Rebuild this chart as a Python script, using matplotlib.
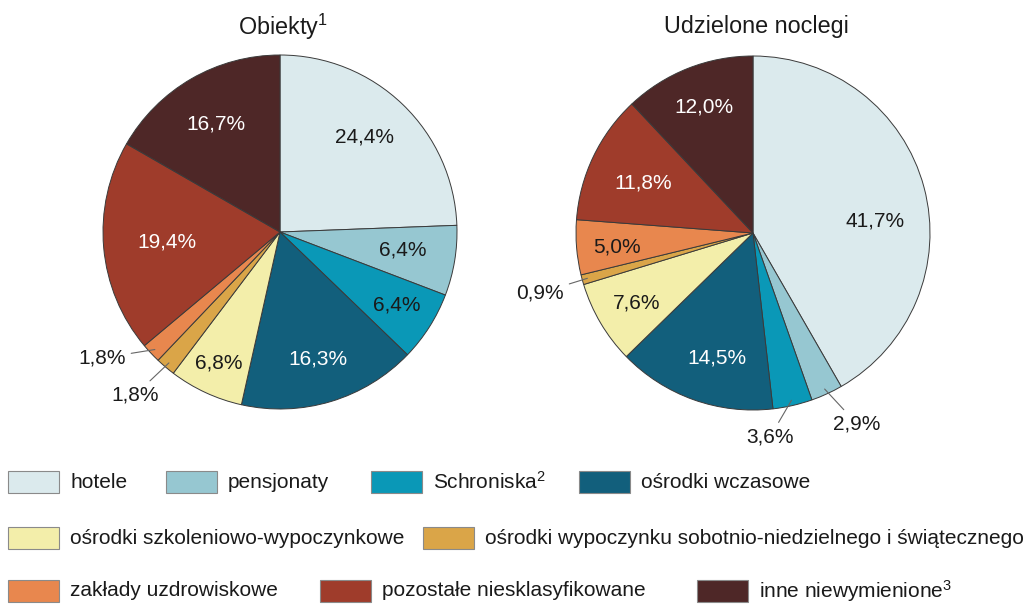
import numpy as np
import matplotlib.pyplot as plt
from matplotlib.patches import Rectangle

plt.rcParams['font.family'] = ['Liberation Sans', 'DejaVu Sans']
plt.rcParams['mathtext.fontset'] = 'custom'
plt.rcParams['mathtext.rm'] = 'Liberation Sans'
plt.rcParams['mathtext.default'] = 'regular'

categories = ['hotele', 'pensjonaty', 'Schroniska$^{2}$', 'ośrodki wczasowe',
              'ośrodki szkoleniowo-wypoczynkowe',
              'ośrodki wypoczynku sobotnio-niedzielnego i świątecznego',
              'zakłady uzdrowiskowe', 'pozostałe niesklasyfikowane',
              'inne niewymienione$^{3}$']
obiekty = [24.4, 6.4, 6.4, 16.3, 6.8, 1.8, 1.8, 19.4, 16.7]
noclegi = [41.7, 2.9, 3.6, 14.5, 7.6, 0.9, 5.0, 11.8, 12.0]
titles = ['Obiekty$^{1}$', 'Udzielone noclegi']

colors = ['#dbeaed', '#96c7d1', '#0a98b7', '#125f7c', '#f3eeaa',
          '#daa548', '#e8874e', '#9f3c2b', '#4e2727']
white_text = [3, 7, 8]

# label positions in pie units (radius = 1)
pos_obiekty = [(0.475, 0.537), (0.695, -0.102), (0.661, -0.412), (0.215, -0.718),
               (-0.345, -0.740), (-0.819, -0.921), (-1.006, -0.712),
               (-0.638, -0.056), (-0.362, 0.610)]
pos_noclegi = [(0.689, 0.068), (0.588, -1.079), (0.096, -1.153), (-0.203, -0.706),
               (-0.655, -0.395), (-1.203, -0.339), (-0.768, -0.079),
               (-0.621, 0.282), (-0.277, 0.712)]

W, H = 1029, 604
fig = plt.figure(figsize=(W / 100, H / 100), dpi=100)

R = 177
centers = [(280, 232), (753, 233)]


def draw_pie(center, values, positions, title):
    cx, cy = center
    ax = fig.add_axes([(cx - R) / W, (H - cy - R) / H, 2 * R / W, 2 * R / H])
    wedges, _ = ax.pie(values, colors=colors, startangle=90, counterclock=False,
                       radius=1,
                       wedgeprops=dict(edgecolor='#3a3a3a', linewidth=0.7))
    for i, (w, v) in enumerate(zip(wedges, values)):
        txt = f'{v:.1f}%'.replace('.', ',')
        x, y = positions[i]
        col = 'white' if i in white_text else '#1a1a1a'
        if np.hypot(x, y) > 0.95:
            ang = np.deg2rad((w.theta1 + w.theta2) / 2)
            ax.annotate(txt, xy=(0.97 * np.cos(ang), 0.97 * np.sin(ang)),
                        xytext=(x, y), ha='center', va='center',
                        fontsize=15, color='#1a1a1a', annotation_clip=False,
                        arrowprops=dict(arrowstyle='-', color='#666666',
                                        lw=0.8, shrinkA=2, shrinkB=0))
        else:
            ax.text(x, y, txt, ha='center', va='center', fontsize=15, color=col)
    ax.set_xlim(-1, 1)
    ax.set_ylim(-1, 1)
    ax.set_aspect('equal')
    ax.axis('off')
    fig.text(cx / W + 0.003, 1 - 27 / H, title, ha='center', va='center',
             fontsize=16.8, color='#1a1a1a')


draw_pie(centers[0], obiekty, pos_obiekty, titles[0])
draw_pie(centers[1], noclegi, pos_noclegi, titles[1])

# legend laid out in three rows like the original
legend_rows = [[0, 1, 2, 3], [4, 5], [6, 7, 8]]
legend_x = [[8, 166, 371, 579], [8, 423], [8, 320, 697]]
legend_y = [482, 538, 591]
pw, ph = 51, 22
for row, xs, yc in zip(legend_rows, legend_x, legend_y):
    for idx, x in zip(row, xs):
        fig.patches.append(Rectangle((x / W, (H - yc - ph / 2) / H), pw / W, ph / H,
                                     transform=fig.transFigure, facecolor=colors[idx],
                                     edgecolor='#8a8a8a', linewidth=0.8))
        fig.text((x + 62) / W, (H - yc) / H, categories[idx], ha='left',
                 va='center', fontsize=15, color='#1a1a1a')

fig.savefig('out.png', dpi=100)
